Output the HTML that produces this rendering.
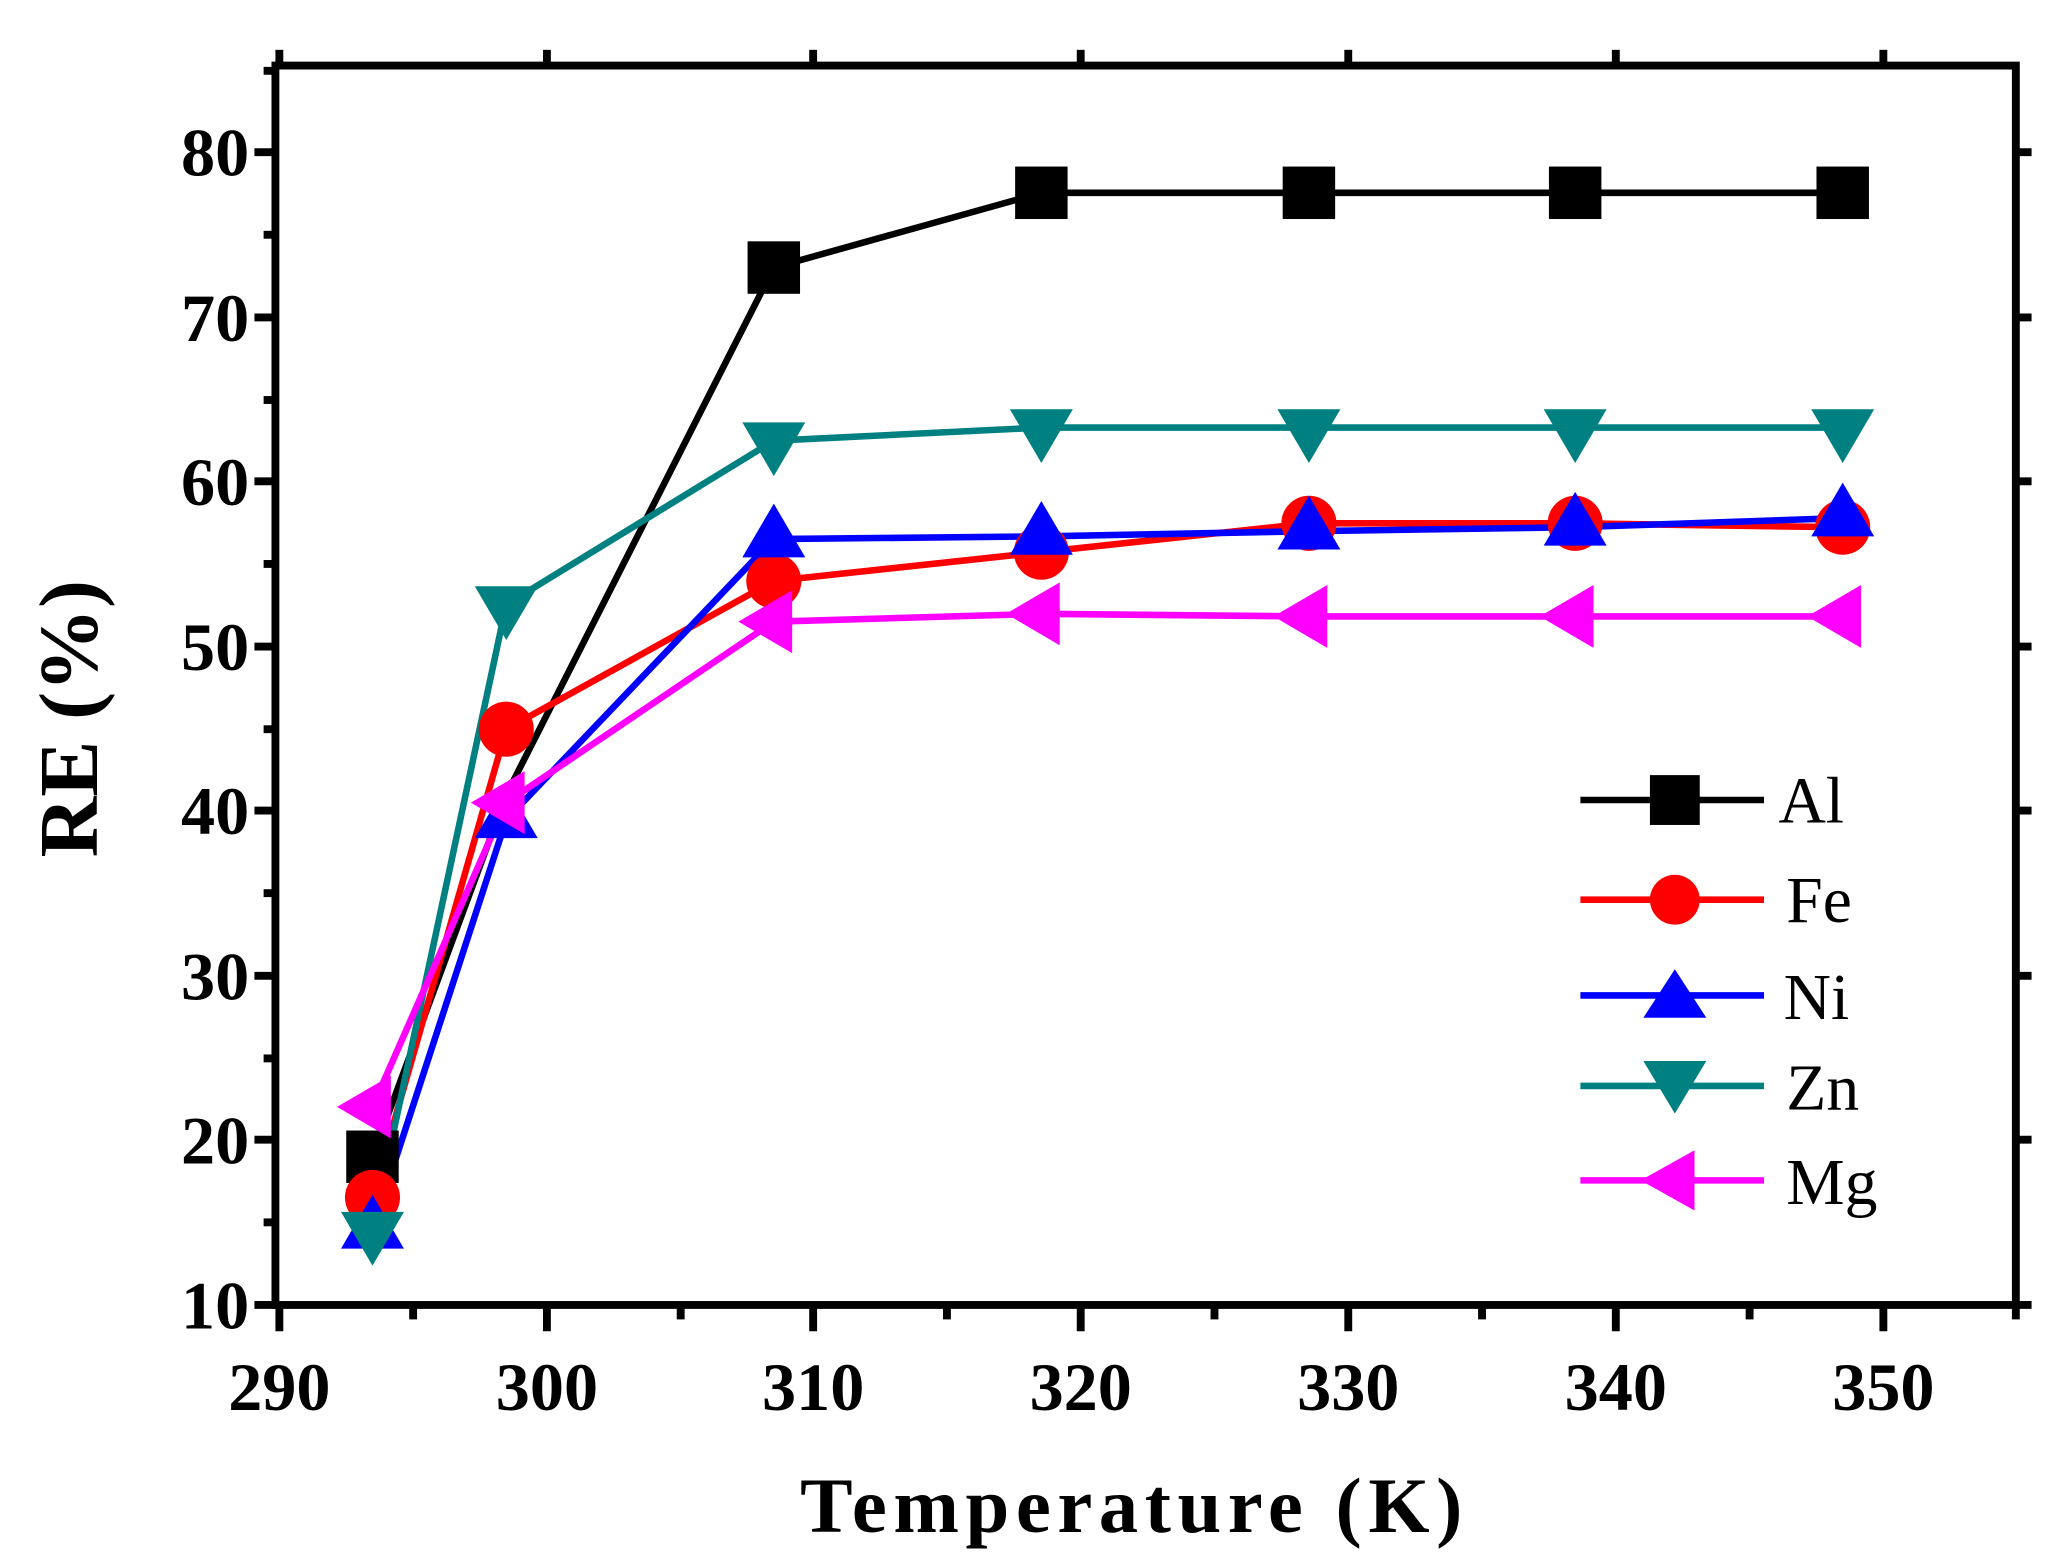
<!DOCTYPE html>
<html><head><style>html,body{margin:0;padding:0;background:#fff}svg{display:block}</style></head>
<body>
<svg width="2046" height="1564" viewBox="0 0 1560 1192.5" preserveAspectRatio="none" xmlns="http://www.w3.org/2000/svg">
<rect x="0" y="0" width="1560" height="1193" fill="#fff"/>
<g stroke="#000" stroke-width="6" fill="none">
<rect x="210" y="50" width="1327" height="945"/>
<g stroke-width="6">
<line x1="213" y1="995" x2="213" y2="1015"/><line x1="417" y1="995" x2="417" y2="1015"/><line x1="620" y1="995" x2="620" y2="1015"/><line x1="824" y1="995" x2="824" y2="1015"/><line x1="1028" y1="995" x2="1028" y2="1015"/><line x1="1232" y1="995" x2="1232" y2="1015"/><line x1="1436" y1="995" x2="1436" y2="1015"/>
<line x1="315" y1="995" x2="315" y2="1006"/><line x1="519" y1="995" x2="519" y2="1006"/><line x1="722" y1="995" x2="722" y2="1006"/><line x1="926" y1="995" x2="926" y2="1006"/><line x1="1130" y1="995" x2="1130" y2="1006"/><line x1="1334" y1="995" x2="1334" y2="1006"/><line x1="1537" y1="995" x2="1537" y2="1006"/>
<line x1="213" y1="50" x2="213" y2="38"/><line x1="417" y1="50" x2="417" y2="38"/><line x1="620" y1="50" x2="620" y2="38"/><line x1="824" y1="50" x2="824" y2="38"/><line x1="1028" y1="50" x2="1028" y2="38"/><line x1="1232" y1="50" x2="1232" y2="38"/><line x1="1436" y1="50" x2="1436" y2="38"/>
</g>
<line x1="210" y1="995" x2="194" y2="995"/><line x1="210" y1="869" x2="194" y2="869"/><line x1="210" y1="744" x2="194" y2="744"/><line x1="210" y1="618" x2="194" y2="618"/><line x1="210" y1="493" x2="194" y2="493"/><line x1="210" y1="367" x2="194" y2="367"/><line x1="210" y1="242" x2="194" y2="242"/><line x1="210" y1="116" x2="194" y2="116"/>
<line x1="210" y1="932" x2="201" y2="932"/><line x1="210" y1="807" x2="201" y2="807"/><line x1="210" y1="681" x2="201" y2="681"/><line x1="210" y1="556" x2="201" y2="556"/><line x1="210" y1="430" x2="201" y2="430"/><line x1="210" y1="305" x2="201" y2="305"/><line x1="210" y1="179" x2="201" y2="179"/><line x1="210" y1="54" x2="201" y2="54"/>
<line x1="1537" y1="995" x2="1549" y2="995"/><line x1="1537" y1="869" x2="1549" y2="869"/><line x1="1537" y1="744" x2="1549" y2="744"/><line x1="1537" y1="618" x2="1549" y2="618"/><line x1="1537" y1="493" x2="1549" y2="493"/><line x1="1537" y1="367" x2="1549" y2="367"/><line x1="1537" y1="242" x2="1549" y2="242"/><line x1="1537" y1="116" x2="1549" y2="116"/>
</g>
<g font-family="Liberation Serif, serif" font-weight="bold" font-size="52" fill="#000">
<g text-anchor="end">
<text x="190" y="1013">10</text><text x="190" y="887">20</text><text x="190" y="762">30</text><text x="190" y="636">40</text><text x="190" y="511">50</text><text x="190" y="385">60</text><text x="190" y="260">70</text><text x="190" y="134">80</text>
</g>
<g text-anchor="middle">
<text x="213" y="1075">290</text><text x="417" y="1075">300</text><text x="620" y="1075">310</text><text x="824" y="1075">320</text><text x="1028" y="1075">330</text><text x="1232" y="1075">340</text><text x="1436" y="1075">350</text>
</g>
<text x="865" y="1168" text-anchor="middle" font-size="60" letter-spacing="5">Temperature (K)</text>
<text transform="translate(74,548) rotate(-90)" text-anchor="middle" font-size="64">RE (%)</text>
</g>
<g fill="none" stroke-width="5" stroke-linejoin="round">
<polyline stroke="#000" points="284,882 386,606 590,204 794,147 998,147 1201,147 1405,147"/>
<polyline stroke="#ff0000" points="284,913 386,556 590,443 794,421 998,399 1201,399 1405,402"/>
<polyline stroke="#0000ff" points="284,938 386,625 590,411 794,409 998,405 1201,402 1405,395"/>
<polyline stroke="#008080" points="284,938 386,461 590,336 794,326 998,326 1201,326 1405,326"/>
<polyline stroke="#ff00ff" points="284,844 386,612 590,474 794,468 998,470 1201,470 1405,470"/>
</g>
<g fill="#000"><rect x="264" y="862" width="40" height="40"/><rect x="570" y="184" width="40" height="40"/><rect x="774" y="127" width="40" height="40"/><rect x="978" y="127" width="40" height="40"/><rect x="1181" y="127" width="40" height="40"/><rect x="1385" y="127" width="40" height="40"/></g>
<g fill="#ff0000"><circle cx="284" cy="913" r="21"/><circle cx="386" cy="556" r="21"/><circle cx="590" cy="443" r="21"/><circle cx="794" cy="421" r="21"/><circle cx="998" cy="399" r="21"/><circle cx="1201" cy="399" r="21"/><circle cx="1405" cy="402" r="21"/></g>
<g fill="#0000ff">
<polygon points="284,911 260,952 308,952"/><polygon points="386,598 362,639 410,639"/><polygon points="590,384 566,425 614,425"/><polygon points="794,382 770,423 818,423"/><polygon points="998,378 974,419 1022,419"/><polygon points="1201,375 1177,416 1225,416"/><polygon points="1405,368 1381,409 1429,409"/></g>
<g fill="#008080">
<polygon points="284,965 260,924 308,924"/><polygon points="386,488 362,447 410,447"/><polygon points="590,363 566,322 614,322"/><polygon points="794,353 770,312 818,312"/><polygon points="998,353 974,312 1022,312"/><polygon points="1201,353 1177,312 1225,312"/><polygon points="1405,353 1381,312 1429,312"/></g>
<g fill="#ff00ff">
<polygon points="257,844 298,820 298,868"/><polygon points="359,612 400,588 400,636"/><polygon points="563,474 604,450 604,498"/><polygon points="767,468 808,444 808,492"/><polygon points="971,470 1012,446 1012,494"/><polygon points="1174,470 1215,446 1215,494"/><polygon points="1378,470 1419,446 1419,494"/></g>
<g stroke-width="5">
<line x1="1205" y1="610" x2="1345" y2="610" stroke="#000"/>
<line x1="1205" y1="686" x2="1345" y2="686" stroke="#ff0000"/>
<line x1="1205" y1="759" x2="1345" y2="759" stroke="#0000ff"/>
<line x1="1205" y1="828" x2="1345" y2="828" stroke="#008080"/>
<line x1="1205" y1="900" x2="1345" y2="900" stroke="#ff00ff"/>
</g>
<rect x="1258" y="591" width="38" height="38" fill="#000"/>
<circle cx="1277" cy="686" r="19" fill="#ff0000"/>
<polygon points="1277,739 1253,776 1301,776" fill="#0000ff"/>
<polygon points="1277,849 1253,809 1301,809" fill="#008080"/>
<polygon points="1251,900 1292,877 1292,923" fill="#ff00ff"/>
<g font-family="Liberation Serif, serif" font-size="50" fill="#000">
<text x="1356" y="627">Al</text><text x="1362" y="703">Fe</text><text x="1360" y="777">Ni</text><text x="1362" y="846">Zn</text><text x="1362" y="918">Mg</text>
</g>
</svg>
</body></html>
